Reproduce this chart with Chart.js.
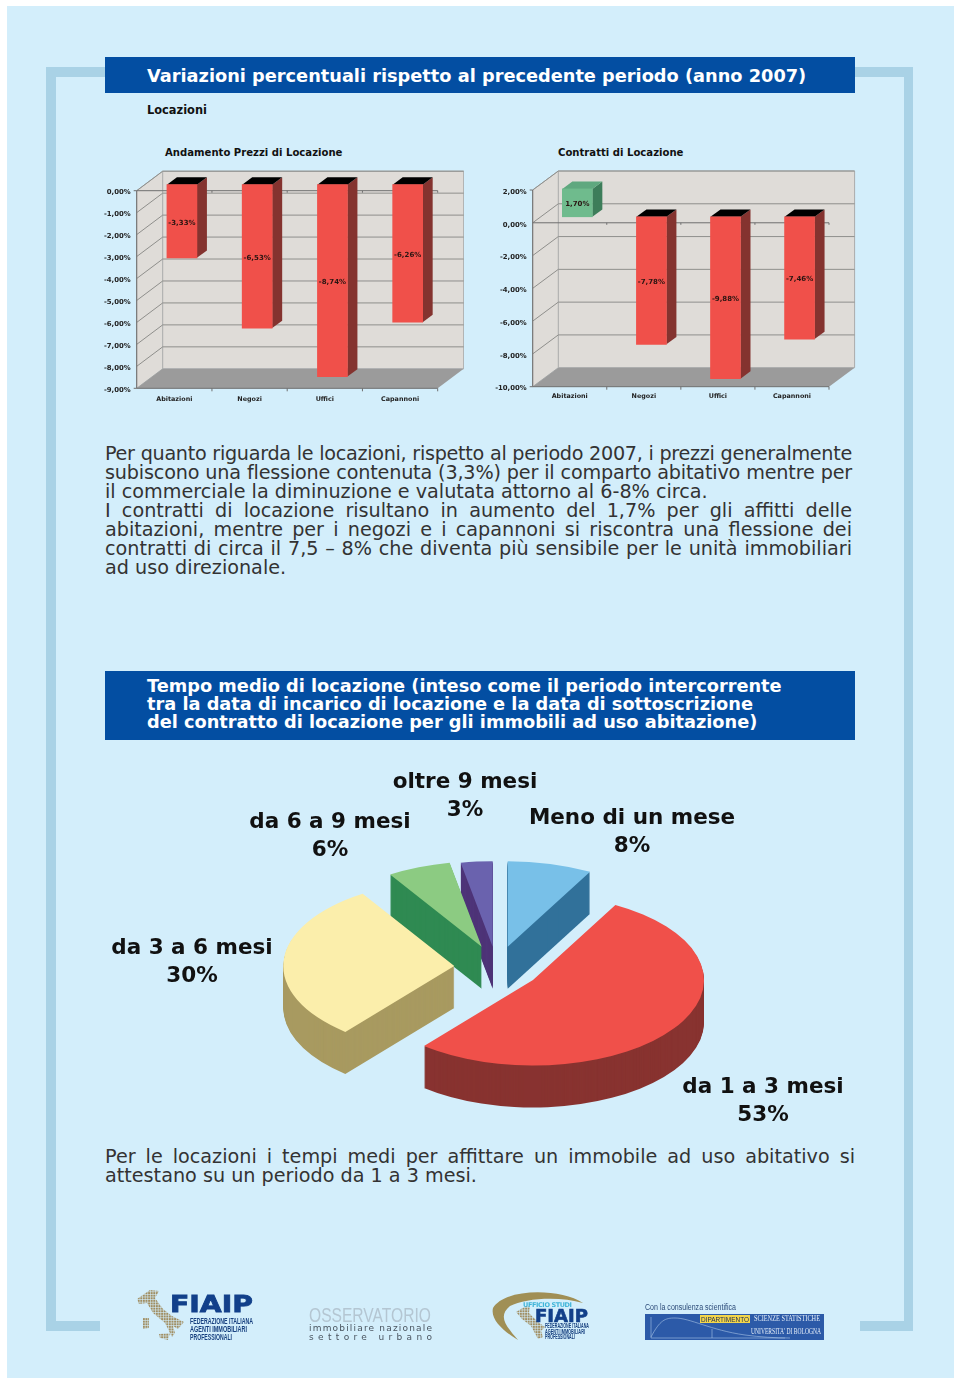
<!DOCTYPE html>
<html>
<head>
<meta charset="utf-8">
<title>Variazioni percentuali</title>
<script src="https://cdn.jsdelivr.net/npm/chart.js@4"></script>
<style>
  html, body { margin: 0; padding: 0; background: #fff; }
  #page { position: relative; width: 960px; height: 1383px; overflow: hidden; font-family: "DejaVu Sans", sans-serif; color: #222; }
  #page > * { position: absolute; }
  .panel { left: 7px; top: 6px; width: 947px; height: 1372px; background: #d3eefb; }
  .frame { background: #a9d2e6; }
  .band { left: 105px; width: 750px; background: #034ea2; color: #fff; font-weight: bold; box-sizing: border-box; padding-left: 42px; }
  .line { left: 105px; width: 747px; font-size: 19.2px; line-height: 19px; white-space: nowrap; text-align: justify; text-align-last: justify; color: #333; }
  .line.end { text-align-last: left; }
  .sub { font-weight: bold; color: #111; white-space: nowrap; }
</style>
</head>
<body>
<div id="page">
  <div class="panel"></div>
  <div class="frame" style="left:46px;top:67px;width:59px;height:10px"></div>
  <div class="frame" style="left:46px;top:67px;width:10px;height:1264px"></div>
  <div class="frame" style="left:46px;top:1321px;width:54px;height:10px"></div>
  <div class="frame" style="left:855px;top:67px;width:58px;height:10px"></div>
  <div class="frame" style="left:904px;top:67px;width:9px;height:1264px"></div>
  <div class="frame" style="left:860px;top:1321px;width:53px;height:10px"></div>

  <div class="band" style="top:57px;height:36px;line-height:38px;font-size:17.75px;white-space:nowrap">Variazioni percentuali rispetto al precedente periodo (anno 2007)</div>
  <div class="sub" style="left:147px;top:103px;font-size:11.4px">Locazioni</div>
  <div class="sub" style="left:165px;top:147px;font-size:10.1px">Andamento Prezzi di Locazione</div>
  <div class="sub" style="left:558px;top:147px;font-size:10.1px">Contratti di Locazione</div>

  <canvas id="prezzi" style="left:92px;top:160px"></canvas>
  <canvas id="contratti" style="left:488px;top:160px"></canvas>

  <div class="line" style="top:444px;letter-spacing:-0.29px">Per quanto riguarda le locazioni, rispetto al periodo 2007, i prezzi generalmente</div>
  <div class="line" style="top:463px;letter-spacing:-0.18px">subiscono una flessione contenuta (3,3%) per il comparto abitativo mentre per</div>
  <div class="line end" style="top:482px">il commerciale la diminuzione e valutata attorno al 6-8% circa.</div>
  <div class="line" style="top:501px">I contratti di locazione risultano in aumento del 1,7% per gli affitti delle</div>
  <div class="line" style="top:520px">abitazioni, mentre per i negozi e i capannoni si riscontra una flessione dei</div>
  <div class="line" style="top:539px">contratti di circa il 7,5 – 8% che diventa più sensibile per le unità immobiliari</div>
  <div class="line end" style="top:558px">ad uso direzionale.</div>

  <div class="band" style="top:671px;height:69px;padding-top:6px;font-size:17.75px;line-height:18px;white-space:nowrap">Tempo medio di locazione (inteso come il periodo intercorrente<br>tra la data di incarico di locazione e la data di sottoscrizione<br>del contratto di locazione per gli immobili ad uso abitazione)</div>

  <canvas id="tempi" style="left:100px;top:760px"></canvas>

  <div class="line" style="top:1147px;width:750px">Per le locazioni i tempi medi per affittare un immobile ad uso abitativo si</div>
  <div class="line end" style="top:1166px;width:750px">attestano su un periodo da 1 a 3 mesi.</div>

  <svg width="960" height="1383" style="left:0;top:0" font-family="'Liberation Sans Narrow','Liberation Sans',sans-serif">
    <defs>
      <pattern id="dots" width="2.6" height="2.6" patternUnits="userSpaceOnUse"><rect width="2" height="2" fill="#a08e62"/></pattern>
    </defs>
    <path fill="url(#dots)" d="M137 1299L150 1290L159 1291L155 1298L163 1309L172 1316L184 1322L178 1329L173 1326L175 1333L172 1337L165 1323L153 1313L147 1303L139 1304ZM143 1318H149V1328L143 1329ZM159 1334L170 1333L168 1340L160 1338Z"/>
    <text x="170" y="1312" font-family="DejaVu Sans" font-weight="bold" font-size="23" fill="#12408a" stroke="#12408a" stroke-width="0.8" textLength="83" lengthAdjust="spacingAndGlyphs">FIAIP</text>
    <g font-weight="bold" font-size="8.5" fill="#17407f">
      <text x="190" y="1324" textLength="63" lengthAdjust="spacingAndGlyphs">FEDERAZIONE ITALIANA</text>
      <text x="190" y="1332" textLength="57" lengthAdjust="spacingAndGlyphs">AGENTI IMMOBILIARI</text>
      <text x="190" y="1340" textLength="42" lengthAdjust="spacingAndGlyphs">PROFESSIONALI</text>
    </g>

    <text x="309" y="1322" font-family="Liberation Sans" font-size="20" fill="#b4c6d2" textLength="122" lengthAdjust="spacingAndGlyphs">OSSERVATORIO</text>
    <text x="309" y="1331" font-family="DejaVu Sans" font-size="9" fill="#4a5560" textLength="123">immobiliare nazionale</text>
    <text x="309" y="1340" font-family="DejaVu Sans" font-size="9" fill="#4a5560" textLength="123">settore urbano</text>

    <path fill="#a08f55" d="M583 1303C560 1288 505 1288 493 1308C490 1320 505 1332 518 1340C505 1325 498 1316 510 1306C525 1298 560 1296 583 1303Z"/>
    <path fill="url(#dots)" d="M516 1312L526 1306L530 1307L529 1313L538 1322L545 1327L541 1331L543 1337L538 1339L531 1326L522 1319Z"/>
    <text x="523" y="1307" font-family="DejaVu Sans" font-weight="bold" font-size="6.5" fill="#3fb4d8" textLength="49">UFFICIO STUDI</text>
    <text x="535" y="1322" font-family="DejaVu Sans" font-weight="bold" font-size="17" fill="#12408a" stroke="#12408a" stroke-width="0.6" textLength="53" lengthAdjust="spacingAndGlyphs">FIAIP</text>
    <g font-weight="bold" font-size="6.5" fill="#17407f">
      <text x="545" y="1328" textLength="44" lengthAdjust="spacingAndGlyphs">FEDERAZIONE ITALIANA</text>
      <text x="545" y="1333.5" textLength="40" lengthAdjust="spacingAndGlyphs">AGENTI IMMOBILIARI</text>
      <text x="545" y="1339" textLength="30" lengthAdjust="spacingAndGlyphs">PROFESSIONALI</text>
    </g>

    <text x="645" y="1310" font-size="8.5" fill="#2b4a78" textLength="91" lengthAdjust="spacingAndGlyphs">Con la consulenza scientifica</text>
    <rect x="645" y="1314" width="179" height="26" fill="#2c5aa8"/>
    <rect x="700" y="1315" width="50" height="8" fill="#f3d64a"/>
    <text x="701" y="1322" font-size="8" fill="#1c2c55" textLength="48" lengthAdjust="spacingAndGlyphs">DIPARTIMENTO</text>
    <text x="754" y="1321" font-family="Liberation Serif" font-size="8" fill="#e8f0fa" textLength="66" lengthAdjust="spacingAndGlyphs">SCIENZE STATISTICHE</text>
    <text x="751" y="1334" font-family="Liberation Serif" font-size="7.5" fill="#e8f0fa" textLength="70" lengthAdjust="spacingAndGlyphs">UNIVERSITA' DI BOLOGNA</text>
    <path fill="none" stroke="#a9c4e6" stroke-width="0.6" d="M651 1317V1338H785M651 1337C660 1320 665 1318 675 1318C690 1318 710 1330 745 1335C760 1337 775 1338 790 1338M712 1329V1338"/>
  </svg>
</div>

<script>
// values
const buildingTypes = ['Abitazioni', 'Negozi', 'Uffici', 'Capannoni']
const priceChanges = [-3.33, -6.53, -8.74, -6.26]
const contractChanges = [1.70, -7.78, -9.88, -7.46]

const timeLabels = ['Meno di un mese', 'da 1 a 3 mesi', 'da 3 a 6 mesi', 'da 6 a 9 mesi', 'oltre 9 mesi']
const timeShares = [8, 53, 30, 6, 3]

const percent = (v) => v.toFixed(2).replace('.', ',') + '%'
const yFont = { family: 'DejaVu Sans', size: 6.9, weight: 'bold' }
const xFont = { family: 'DejaVu Sans', size: 6.4, weight: 'bold' }

// back wall, floor and grid behind the bars, plus the depth faces of each bar
const box3d = {
    id: 'box3d',
    beforeDatasetsDraw(chart, args, opts) {
        const { ctx, chartArea: a, scales: { x, y } } = chart
        const dx = opts.wall[0], dy = opts.wall[1]

        ctx.save()
        ctx.fillStyle = '#dfdcd8'
        ctx.strokeStyle = '#a9abab'
        ctx.lineWidth = 1
        ctx.beginPath()
        ctx.moveTo(a.left, a.top)
        ctx.lineTo(a.left + dx, a.top + dy)
        ctx.lineTo(a.right + dx, a.top + dy)
        ctx.lineTo(a.right + dx, a.bottom + dy)
        ctx.lineTo(a.left + dx, a.bottom + dy)
        ctx.lineTo(a.left, a.bottom)
        ctx.closePath()
        ctx.fill()
        ctx.stroke()
        ctx.beginPath()
        ctx.moveTo(a.left + dx, a.top + dy)
        ctx.lineTo(a.left + dx, a.bottom + dy)
        ctx.stroke()

        ctx.fillStyle = '#9b9b9b'
        ctx.beginPath()
        ctx.moveTo(a.left, a.bottom)
        ctx.lineTo(a.left + dx, a.bottom + dy)
        ctx.lineTo(a.right + dx, a.bottom + dy)
        ctx.lineTo(a.right, a.bottom)
        ctx.closePath()
        ctx.fill()

        ctx.strokeStyle = '#8f8f8c'
        y.ticks.forEach(t => {
            const py = y.getPixelForValue(t.value)
            if (py >= a.bottom - 1) return
            ctx.beginPath()
            ctx.moveTo(a.left, py)
            ctx.lineTo(a.left + dx, py + dy)
            ctx.lineTo(a.right + dx, py + dy)
            ctx.stroke()
        })

        // base lines with their small ticks
        const zero = y.getPixelForValue(0)
        ctx.strokeStyle = '#6f6f6f'
        ctx.beginPath()
        ctx.moveTo(a.left, zero)
        ctx.lineTo(a.right, zero)
        ctx.moveTo(a.left, a.bottom)
        ctx.lineTo(a.right, a.bottom)
        ctx.moveTo(a.left, a.top)
        ctx.lineTo(a.left, a.bottom)
        buildingTypes.forEach((c, i) => {
            const px = a.left + (a.right - a.left) * (i + 1) / buildingTypes.length
            ctx.moveTo(px, zero)
            ctx.lineTo(px, zero + 2)
            ctx.moveTo(px, a.bottom)
            ctx.lineTo(px, a.bottom + 3)
        })
        ctx.moveTo(a.left, a.top)
        ctx.lineTo(a.left - 3, a.top)
        ctx.moveTo(a.left, a.bottom)
        ctx.lineTo(a.left - 3, a.bottom)
        ctx.stroke()

        // bars stand inside the box, not on its front edge
        ctx.translate(opts.inset[0], opts.inset[1])
        const bx = opts.depth[0], by = opts.depth[1]
        chart.getDatasetMeta(0).data.forEach((bar, i) => {
            const val = chart.data.datasets[0].data[i]
            const left = bar.x - bar.width / 2
            const right = bar.x + bar.width / 2
            const top = Math.min(bar.y, bar.base)
            const bottom = Math.max(bar.y, bar.base)

            ctx.fillStyle = val < 0 ? '#84332f' : '#3d7d5a'
            ctx.beginPath()
            ctx.moveTo(right, top)
            ctx.lineTo(right + bx, top + by)
            ctx.lineTo(right + bx, bottom + by)
            ctx.lineTo(right, bottom)
            ctx.closePath()
            ctx.fill()

            ctx.fillStyle = val < 0 ? '#000' : '#5fa87f'
            ctx.beginPath()
            ctx.moveTo(left, top)
            ctx.lineTo(left + bx, top + by)
            ctx.lineTo(right + bx, top + by)
            ctx.lineTo(right, top)
            ctx.closePath()
            ctx.fill()
        })
    },
    afterDatasetsDraw(chart) {
        const { ctx } = chart
        ctx.font = 'bold 7px "DejaVu Sans"'
        ctx.textAlign = 'center'
        ctx.textBaseline = 'middle'
        ctx.fillStyle = '#2a1512'
        chart.getDatasetMeta(0).data.forEach((bar, i) => {
            ctx.fillText(percent(chart.data.datasets[0].data[i]), bar.x, (bar.y + bar.base) / 2 + 1.5)
        })
        ctx.restore()
    }
}

const createBars = (id, values, min, max, step, size, area, wall, xPad) => {
    const canvas = document.querySelector('#' + id)
    canvas.width = size[0]
    canvas.height = size[1]
    canvas.style.position = 'absolute'
    return new Chart(canvas, {
        type: 'bar',
        data: {
            labels: buildingTypes,
            datasets: [{
                data: values,
                backgroundColor: values.map(v => v < 0 ? '#f0504a' : '#6fbb8d'),
                barThickness: 30,
                clip: false
            }]
        },
        options: {
            responsive: false,
            animation: false,
            layout: { padding: { top: area.top, right: area.right, left: 0, bottom: 0 } },
            plugins: {
                legend: { display: false },
                tooltip: { enabled: false },
                box3d: { wall: wall, depth: [10, -7.4], inset: [7.6, -6] }
            },
            scales: {
                x: {
                    grid: { display: false },
                    border: { display: false },
                    ticks: { color: '#222', font: xFont, padding: xPad, autoSkip: false, maxRotation: 0 },
                    afterFit: (s) => { s.height = area.bottom }
                },
                y: {
                    min: min,
                    max: max,
                    grid: { display: false },
                    border: { display: false },
                    ticks: { stepSize: step, color: '#222', font: yFont, padding: -2, labelOffset: 2, callback: percent },
                    afterFit: (s) => { s.width = area.left }
                }
            }
        },
        plugins: [box3d]
    })
}

createBars('prezzi', priceChanges, -9, 0, 1, [372, 255], { left: 44.7, top: 30.7, right: 26.3, bottom: 26.7 }, [26, -19.5], -1)
createBars('contratti', contractChanges, -10, 2, 2, [368, 255], { left: 44.7, top: 30, right: 27, bottom: 28.3 }, [25.6, -19], -2)

// the slices of the original are moved by hand, each its own way, and tilted to half height
const sliceShift = [[27.7, -3.3], [53, 30], [-25.7, 16], [1.7, -3.3], [12.7, -3.3]]
const sliceSide = ['#31719a', '#883330', '#a89a60', '#2f8a52', '#4e3478']
const drawOrder = [4, 0, 3, 2, 1]
const labelSpots = [[532, 58], [663, 327], [92, 188], [230, 62], [365, 22]]
const pieDepth = 42

const pie3d = {
    id: 'pie3d',
    beforeDatasetsDraw(chart) {
        const { ctx } = chart
        const arcs = chart.getDatasetMeta(0).data
        drawOrder.forEach(i => {
            const arc = arcs[i]
            const sx = arc.x + sliceShift[i][0]
            const sy = arc.y + sliceShift[i][1]
            ctx.fillStyle = sliceSide[i]
            for (let d = pieDepth; d > 0; d--) {
                ctx.save()
                ctx.translate(sx, sy + d)
                ctx.scale(1, 0.5)
                ctx.beginPath()
                ctx.moveTo(0, 0)
                ctx.arc(0, 0, arc.outerRadius, arc.startAngle, arc.endAngle)
                ctx.closePath()
                ctx.fill()
                ctx.restore()
            }
            ctx.save()
            ctx.translate(sx, sy)
            ctx.scale(1, 0.5)
            ctx.translate(-arc.x, -arc.y)
            arc.draw(ctx)
            ctx.restore()
        })
        return false
    },
    afterDraw(chart) {
        const { ctx } = chart
        ctx.save()
        ctx.font = 'bold 21.5px "DejaVu Sans"'
        ctx.textAlign = 'center'
        ctx.textBaseline = 'middle'
        ctx.fillStyle = '#111'
        timeLabels.forEach((label, i) => {
            ctx.fillText(label, labelSpots[i][0], labelSpots[i][1])
            ctx.fillText(timeShares[i] + '%', labelSpots[i][0], labelSpots[i][1] + 28)
        })
        ctx.restore()
    }
}

const pieCanvas = document.querySelector('#tempi')
pieCanvas.width = 760
pieCanvas.height = 380
pieCanvas.style.position = 'absolute'
new Chart(pieCanvas, {
    type: 'pie',
    data: {
        labels: timeLabels,
        datasets: [{
            data: timeShares,
            backgroundColor: ['#78c0e8', '#f0504a', '#fbeeab', '#8ccb82', '#6a62ae'],
            borderWidth: 0
        }]
    },
    options: {
        responsive: false,
        animation: false,
        radius: 171,
        plugins: { legend: { display: false }, tooltip: { enabled: false } }
    },
    plugins: [pie3d]
})
</script>
</body>
</html>
